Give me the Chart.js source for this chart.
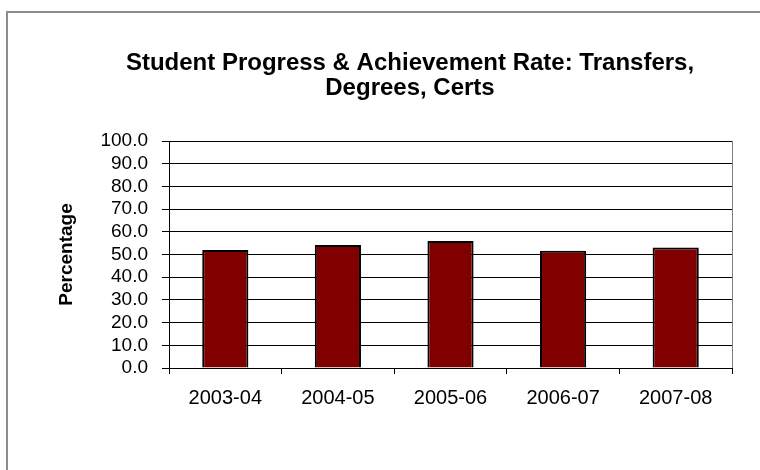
<!DOCTYPE html>
<html>
<head>
<meta charset="utf-8">
<title>Student Progress &amp; Achievement Rate</title>
<style>
	html, body { margin: 0; padding: 0; background: #fff; overflow: hidden; }
	#frame { position: absolute; left: 6px; top: 11px; width: 800px; height: 520px; border: 2px solid #8c8c8c; }
	#wrap { position: absolute; left: 0; top: 0; width: 760px; height: 470px; }
</style>
<script src="https://cdn.jsdelivr.net/npm/chart.js@4.4.0/dist/chart.umd.min.js"></script>
</head>
<body>
<div id="frame"></div>
<div id="wrap"><canvas id="rateChart" width="760" height="470"></canvas></div>
<script>
const titleLines = ['Student Progress & Achievement Rate: Transfers,', 'Degrees, Certs'];
const years = ['2003-04', '2004-05', '2005-06', '2006-07', '2007-08'];
const rates = [52.0, 54.2, 55.9, 51.6, 53.1];
const yAxisLabel = 'Percentage';
const yMin = 0;
const yMax = 100;
const yStep = 10;

;(function (window, document, undefined) {
	'use strict';

	const FONT = '"Liberation Sans", Arial, Helvetica, sans-serif';

	// two line title, drawn by hand so it can sit off-centre like the original
	const titlePlugin = {
		id: 'twoLineTitle',
		afterDraw(chart) {
			const ctx = chart.ctx;
			ctx.save();
			ctx.font = 'bold 24px ' + FONT;
			ctx.fillStyle = '#000';
			ctx.textAlign = 'center';
			ctx.textBaseline = 'middle';
			titleLines.forEach(function (line, i) {
				ctx.fillText(line, 410, 63 + i * 25);
			});
			ctx.restore();
		}
	};

	// grey right edge of the plot area
	const plotEdge = {
		id: 'plotEdge',
		beforeDatasetsDraw(chart) {
			const a = chart.chartArea;
			const ctx = chart.ctx;
			ctx.save();
			ctx.strokeStyle = '#808080';
			ctx.lineWidth = 1;
			ctx.beginPath();
			ctx.moveTo(a.right + 0.5, a.top);
			ctx.lineTo(a.right + 0.5, a.bottom);
			ctx.stroke();
			ctx.restore();
		}
	};

	const ctx = document.getElementById('rateChart').getContext('2d');

	new Chart(ctx, {
		type: 'bar',
		data: {
			labels: years,
			datasets: [{
				label: yAxisLabel,
				data: rates,
				backgroundColor: '#800000',
				borderColor: '#000',
				borderWidth: 2,
				barPercentage: 0.41,
				categoryPercentage: 1
			}]
		},
		options: {
			responsive: false,
			animation: false,
			devicePixelRatio: 1,
			layout: {
				padding: { top: 141, left: 48, right: 28, bottom: 0 }
			},
			plugins: {
				legend: { display: false },
				title: { display: false },
				tooltip: { enabled: false }
			},
			scales: {
				x: {
					grid: {
						offset: true,
						drawOnChartArea: false,
						drawTicks: true,
						tickLength: 6,
						color: '#000'
					},
					border: { color: '#000', width: 1 },
					ticks: {
						color: '#000',
						font: { family: FONT, size: 20 },
						padding: 12
					},
					afterFit: function (scale) {
						scale.height = 102;
					}
				},
				y: {
					min: yMin,
					max: yMax,
					grid: {
						color: '#000',
						lineWidth: 1,
						tickLength: 7
					},
					border: { color: '#000', width: 1 },
					ticks: {
						stepSize: yStep,
						autoSkip: false,
						color: '#000',
						font: { family: FONT, size: 19 },
						padding: 14,
						callback: function (v) { return v.toFixed(1); }
					},
					title: {
						display: true,
						text: yAxisLabel,
						color: '#000',
						font: { family: FONT, size: 19, weight: 'bold' },
						padding: { top: 7, bottom: 0 }
					},
					afterFit: function (scale) {
						scale.width = 169 - 48;
					}
				}
			}
		},
		plugins: [titlePlugin, plotEdge]
	});

})(window, document);
</script>
</body>
</html>
